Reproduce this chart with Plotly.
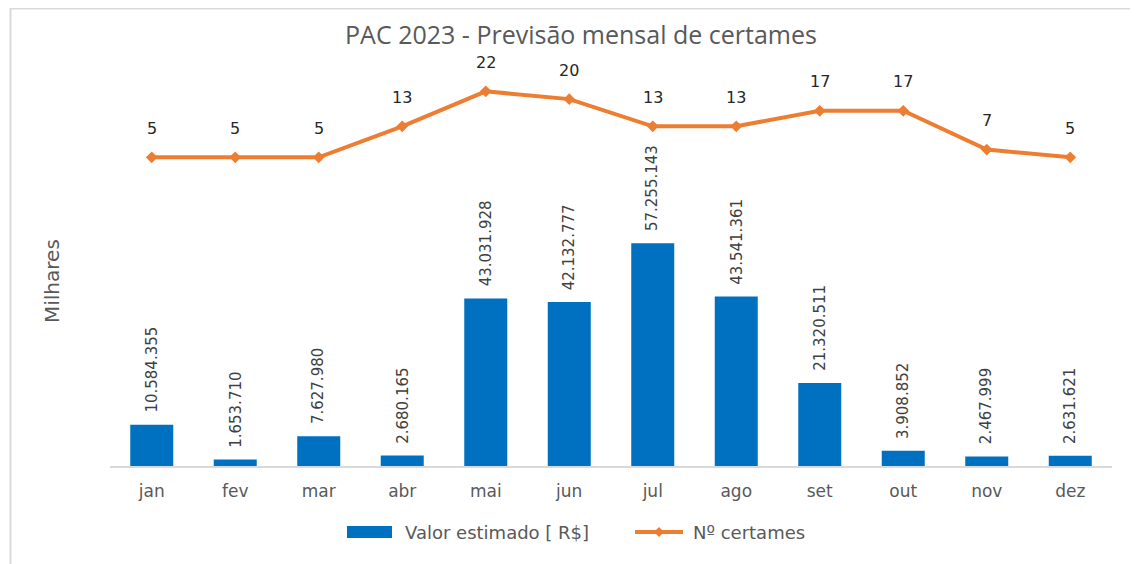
import plotly.graph_objects as go

months = ["jan", "fev", "mar", "abr", "mai", "jun", "jul", "ago", "set", "out", "nov", "dez"]
valor_estimado = [10584355, 1653710, 7627980, 2680165, 43031928, 42132777,
                  57255143, 43541361, 21320511, 3908852, 2467999, 2631621]
num_certames = [5, 5, 5, 13, 22, 20, 13, 13, 17, 17, 7, 5]
legend_names = ["Valor estimado [ R$]", "Nº certames"]

BAR_COLOR = "#0070C0"
LINE_COLOR = "#ED7D31"
TXT = "#595959"

W, H = 1138, 564
L, R, T, B = 102, 34, 69, 106
pw, ph = W - L - R, H - T - B


def px_x(p):
    return (p - L) / pw


def px_y(p):
    return (H - B - p) / ph


def fmt(v):
    return f"{v:,}".replace(",", ".")


fig = go.Figure()
fig.add_trace(go.Bar(
    x=months, y=valor_estimado, name=legend_names[0],
    marker=dict(color=BAR_COLOR, line=dict(width=0)),
    yaxis="y", showlegend=False,
))
fig.add_trace(go.Scatter(
    x=months, y=num_certames, name=legend_names[1], mode="lines+markers",
    line=dict(color=LINE_COLOR, width=4),
    marker=dict(symbol="diamond", size=9, color=LINE_COLOR),
    yaxis="y2", cliponaxis=False, showlegend=False,
))

# bar value labels
for m, v in zip(months, valor_estimado):
    fig.add_annotation(x=m, y=v, xref="x", yref="y", text=fmt(v), showarrow=False,
                       textangle=-90, yanchor="bottom", yshift=10,
                       font=dict(family="DejaVu Sans", size=15, color="#404040"))
# line value labels
for m, n in zip(months, num_certames):
    fig.add_annotation(x=m, y=n, xref="x", yref="y2", text=str(n), showarrow=False,
                       yshift=29, font=dict(family="DejaVu Sans", size=16, color="#262626"))

# y-axis title
fig.add_annotation(x=px_x(44), y=px_y(273), xref="paper", yref="paper",
                   text="Milhares", textangle=-90, showarrow=False,
                   xanchor="center", yanchor="middle",
                   font=dict(family="DejaVu Sans", size=20, color=TXT))

# custom legend
leg_y = 524
fig.add_shape(type="rect", xref="paper", yref="paper",
              x0=px_x(339), x1=px_x(384), y0=px_y(leg_y + 6), y1=px_y(leg_y - 6),
              fillcolor=BAR_COLOR, line=dict(width=0))
fig.add_annotation(x=px_x(395), y=px_y(leg_y), xref="paper", yref="paper",
                   text=legend_names[0], showarrow=False, xanchor="left", yanchor="middle",
                   font=dict(family="DejaVu Sans", size=18, color=TXT))
fig.add_shape(type="line", xref="paper", yref="paper",
              x0=px_x(627), x1=px_x(675), y0=px_y(leg_y), y1=px_y(leg_y),
              line=dict(color=LINE_COLOR, width=4))
fig.add_shape(type="path", xref="paper", yref="paper",
              path=(f"M {px_x(651)},{px_y(leg_y - 5)} L {px_x(656)},{px_y(leg_y)} "
                    f"L {px_x(651)},{px_y(leg_y + 5)} L {px_x(646)},{px_y(leg_y)} Z"),
              fillcolor=LINE_COLOR, line=dict(width=0))
fig.add_annotation(x=px_x(683), y=px_y(leg_y), xref="paper", yref="paper",
                   text=legend_names[1], showarrow=False, xanchor="left", yanchor="middle",
                   font=dict(family="DejaVu Sans", size=18, color=TXT))

# chart border
fig.add_shape(type="rect", xref="paper", yref="paper",
              x0=px_x(2.5), x1=px_x(W + 20),
              y0=px_y(H + 20), y1=px_y(0.5),
              line=dict(color="#D9D9D9", width=2), fillcolor="rgba(0,0,0,0)", layer="below")

fig.update_layout(
    width=W, height=H,
    margin=dict(l=L, r=R, t=T, b=B),
    paper_bgcolor="white", plot_bgcolor="white",
    title=dict(text="PAC 2023 - Previsão mensal de certames", x=573 / W, xanchor="center",
               y=1 - 27 / H, yanchor="middle",
               font=dict(family="Open Sans", size=25, color=TXT)),
    bargap=0.485,
    showlegend=False,
    xaxis=dict(range=[-0.5, 11.5], showline=True, linecolor="#D9D9D9", linewidth=2,
               ticks="", showgrid=False, ticklabelstandoff=9,
               tickfont=dict(family="DejaVu Sans", size=17, color=TXT)),
    yaxis=dict(range=[0, 100e6], showticklabels=False, showgrid=False, zeroline=False, ticks=""),
    yaxis2=dict(range=[-74.5, 25.7], overlaying="y", side="right", showticklabels=False,
                showgrid=False, zeroline=False, ticks=""),
)

fig.write_html("out.html")
